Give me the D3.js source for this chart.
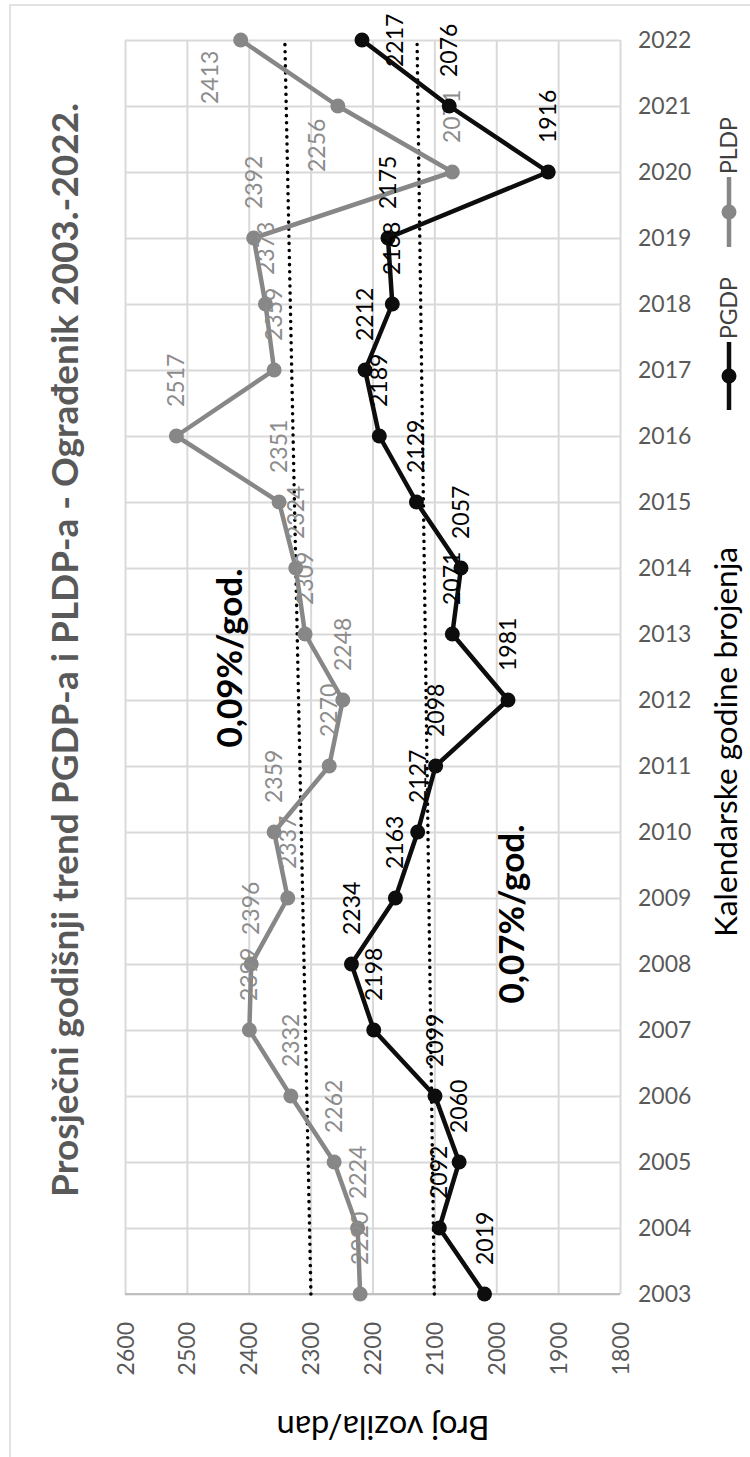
<!DOCTYPE html>
<html>
<head>
<meta charset="utf-8">
<script src="https://cdn.jsdelivr.net/npm/d3@7"></script>
<style>
  body { margin: 0; background: #fff; }
  svg { display: block; }
  text { font-family: Lato, "Open Sans", sans-serif; }
</style>
</head>
<body>
<div class="chart"></div>
<script>
// data
const years = [2003, 2004, 2005, 2006, 2007, 2008, 2009, 2010, 2011, 2012,
               2013, 2014, 2015, 2016, 2017, 2018, 2019, 2020, 2021, 2022];
const pgdp = [2019, 2092, 2060, 2099, 2198, 2234, 2163, 2127, 2098, 1981,
              2071, 2057, 2129, 2189, 2212, 2168, 2175, 1916, 2076, 2217];
const pldp = [2220, 2224, 2262, 2332, 2399, 2396, 2337, 2359, 2270, 2248,
              2309, 2324, 2351, 2517, 2359, 2373, 2392, 2071, 2256, 2413];
const valueTicks = [1800, 1900, 2000, 2100, 2200, 2300, 2400, 2500, 2600];
const seriesNames = ["PGDP", "PLDP"];
const trendTexts = ["0,07%/god.", "0,09%/god."];
const titleText = "Prosječni godišnji trend PGDP-a i PLDP-a - Ograđenik 2003.-2022.";
const xTitle = "Kalendarske godine brojenja";
const yTitle = "Broj vozila/dan";

const width = 750, height = 1457;
const plot = { left: 125, right: 620, top: 40, bottom: 1294 };

// labels that were moved by hand in the original (dx across, dy = start offset)
const labelNudge = {
    "PLDP-2022": { dx: -31, dy: 64 },
    "PLDP-2021": { dx: -21, dy: 66 },
    "PGDP-2022": { dx: 33, dy: 27 }
};

// shrink/grow a text so it spans a given length
function fit(sel, target) {
    const len = sel.node().getComputedTextLength();
    const fs = parseFloat(sel.style("font-size"));
    sel.style("font-size", (fs * target / len) + "px");
}

const svg = d3.select("div.chart").append("svg")
    .attr("width", width)
    .attr("height", height);

// outer chart border (partly off-page)
svg.append("rect")
    .attr("x", 10).attr("y", 5)
    .attr("width", 900).attr("height", 1600)
    .attr("fill", "#fff")
    .attr("stroke", "#d9d9d9")
    .attr("stroke-width", 1.5);

// chart is turned on its side: values run across, years run up
const x = d3.scaleLinear().domain([1800, 2600]).range([plot.right, plot.left]);
const y = d3.scalePoint().domain(years).range([plot.bottom, plot.top]);

// value gridlines + rotated labels
const xAxis = svg.append("g")
    .attr("transform", "translate(0," + plot.bottom + ")")
    .call(d3.axisBottom(x).tickValues(valueTicks).tickSize(-(plot.bottom - plot.top)).tickFormat(d3.format("d")));
xAxis.select(".domain").remove();
xAxis.selectAll(".tick line").attr("stroke", "#d9d9d9").attr("stroke-width", 2);
xAxis.selectAll(".tick text")
    .attr("transform", "rotate(-90)")
    .attr("x", -28).attr("y", 0).attr("dy", "0.35em")
    .attr("text-anchor", "end")
    .attr("fill", "#595959")
    .style("font-size", "23px");

// year gridlines + upright labels
const yAxis = svg.append("g")
    .attr("transform", "translate(" + plot.right + ",0)")
    .call(d3.axisRight(y).tickSize(-(plot.right - plot.left)));
yAxis.select(".domain").remove();
yAxis.selectAll(".tick line").attr("stroke", "#d9d9d9").attr("stroke-width", 2);
yAxis.selectAll(".tick text")
    .attr("x", 18)
    .attr("fill", "#595959")
    .style("font-size", "23px");
svg.append("line")
    .attr("x1", plot.left).attr("x2", plot.right)
    .attr("y1", y(years[0])).attr("y2", y(years[0]))
    .attr("stroke", "#bfbfbf").attr("stroke-width", 2);

// linear trend (least squares) for each series
function trend(vals) {
    const mx = d3.mean(years), my = d3.mean(vals);
    let sxy = 0, sxx = 0;
    for (let i = 0; i < vals.length; i++) {
        sxy += (years[i] - mx) * (vals[i] - my);
        sxx += (years[i] - mx) * (years[i] - mx);
    }
    const b = sxy / sxx;
    return [years[0], years[years.length - 1]].map(function (yr) { return { year: yr, v: my + b * (yr - mx) }; });
}

const line = d3.line()
    .x(function (d) { return x(d.v); })
    .y(function (d) { return y(d.year); });

const series = [
    { name: "PLDP", values: pldp, color: "#878787", label: "#8c8c8c" },
    { name: "PGDP", values: pgdp, color: "#0d0d0d", label: "#000" }
];

series.forEach(function (s) {
    svg.append("path")
        .datum(trend(s.values))
        .attr("fill", "none")
        .attr("stroke", "#000")
        .attr("stroke-width", 3.5)
        .attr("stroke-linecap", "round")
        .attr("stroke-dasharray", "0.1 7")
        .attr("d", line);
});

series.forEach(function (s) {
    const pts = years.map(function (yr, i) { return { year: yr, v: s.values[i], key: s.name + "-" + yr }; });

    svg.append("path")
        .datum(pts)
        .attr("fill", "none")
        .attr("stroke", s.color)
        .attr("stroke-width", 4.5)
        .attr("stroke-linejoin", "round")
        .attr("d", line);

    svg.selectAll(null)
        .data(pts)
        .enter()
        .append("circle")
        .attr("cx", function (d) { return x(d.v); })
        .attr("cy", function (d) { return y(d.year); })
        .attr("r", 7.5)
        .attr("fill", s.color);

    svg.selectAll(null)
        .data(pts)
        .enter()
        .append("text")
        .attr("transform", function (d) {
            const n = labelNudge[d.key] || { dx: 0, dy: -29 };
            return "translate(" + (x(d.v) + n.dx) + "," + (y(d.year) + n.dy) + ") rotate(-90)";
        })
        .attr("dy", "0.35em")
        .attr("fill", s.label)
        .style("font-size", "23px")
        .text(function (d) { return d.v; });
});

// growth-rate notes
svg.append("text")
    .attr("transform", "translate(230,658) rotate(-90)")
    .attr("text-anchor", "middle")
    .attr("dy", "0.35em")
    .style("font-size", "35px").style("font-weight", "bold")
    .text(trendTexts[1]);
svg.append("text")
    .attr("transform", "translate(512,914) rotate(-90)")
    .attr("text-anchor", "middle")
    .attr("dy", "0.35em")
    .style("font-size", "35px").style("font-weight", "bold")
    .text(trendTexts[0]);

// title
const title = svg.append("text")
    .attr("transform", "translate(65,650) rotate(-90)")
    .attr("text-anchor", "middle")
    .attr("dy", "0.35em")
    .attr("fill", "#595959")
    .style("font-size", "30px").style("font-weight", "bold")
    .text(titleText);
fit(title, 1094);

// axis titles
const xt = svg.append("text")
    .attr("transform", "translate(726,742) rotate(-90)")
    .attr("text-anchor", "middle")
    .attr("dy", "0.35em")
    .style("font-size", "29px")
    .text(xTitle);
fit(xt, 390);
const yt = svg.append("text")
    .attr("transform", "translate(383,1427) rotate(180)")
    .attr("text-anchor", "middle")
    .attr("dy", "0.35em")
    .style("font-size", "29px")
    .text(yTitle);
fit(yt, 213);

// legend
const legend = [
    { name: seriesNames[1], color: "#878787", top: 177, bottom: 247 },
    { name: seriesNames[0], color: "#0d0d0d", top: 342, bottom: 410 }
];
legend.forEach(function (l) {
    svg.append("line")
        .attr("x1", 729).attr("x2", 729)
        .attr("y1", l.top).attr("y2", l.bottom)
        .attr("stroke", l.color).attr("stroke-width", 4.5);
    svg.append("circle")
        .attr("cx", 729).attr("cy", (l.top + l.bottom) / 2)
        .attr("r", 7.5).attr("fill", l.color);
    svg.append("text")
        .attr("transform", "translate(729," + (l.top - 3) + ") rotate(-90)")
        .attr("dy", "0.35em")
        .attr("fill", "#404040")
        .style("font-size", "23px")
        .text(l.name);
});
</script>
</body>
</html>
